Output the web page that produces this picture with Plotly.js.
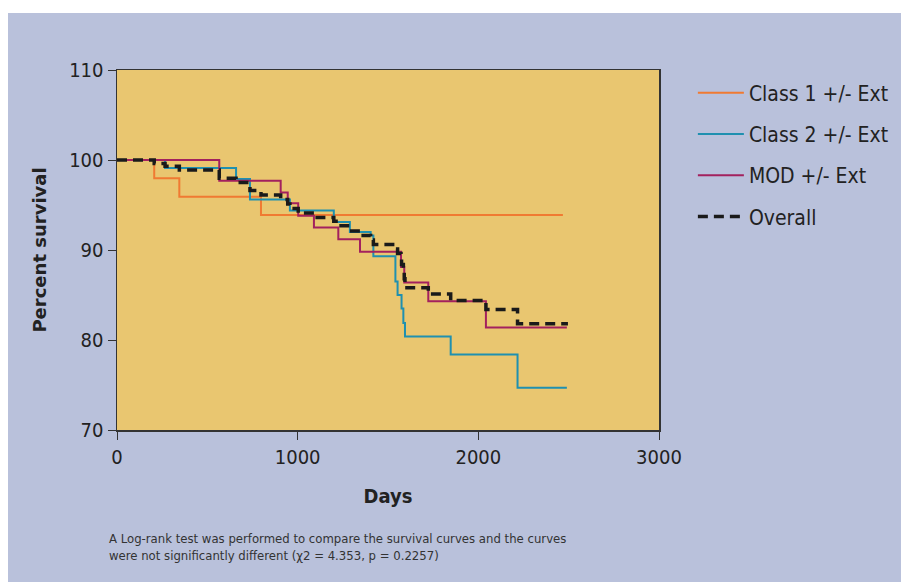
<!DOCTYPE html>
<html>
<head>
<meta charset="utf-8">
<script src="https://cdn.plot.ly/plotly-3.0.1.min.js"></script>
<style>
  html, body { margin: 0; padding: 0; background: #ffffff; width: 901px; height: 582px; overflow: hidden; }
  #chart { position: absolute; left: 8px; top: 13px; width: 893px; height: 569px; background: #b9c1db; }
</style>
</head>
<body>
<div id="chart"></div>
<script>
// Kaplan-Meier step data (days, percent survival after each event)
const class1Days = [0, 206, 345, 797, 2468];
const class1Surv = [100, 97.96, 95.92, 93.88, 93.88];

const class2Days = [0, 266, 659, 736, 957, 1200, 1289, 1404, 1419, 1541, 1553, 1575, 1585, 1594, 1847, 2217, 2490];
const class2Surv = [100, 99.1, 97.9, 95.6, 94.4, 93.1, 92.0, 91.6, 89.3, 86.5, 85.0, 83.5, 81.9, 80.4, 78.4, 74.7, 74.7];

const modDays = [0, 566, 906, 945, 1003, 1090, 1225, 1345, 1572, 1590, 1723, 2042, 2490];
const modSurv = [100, 97.7, 96.4, 95.2, 93.8, 92.5, 91.2, 89.8, 88.1, 86.4, 84.3, 81.4, 81.4];

const overallDays = [0, 206, 266, 345, 566, 659, 736, 797, 906, 945, 957, 1003, 1090, 1200, 1225, 1289, 1345, 1404, 1419, 1541, 1553, 1572, 1575, 1585, 1590, 1594, 1723, 1847, 2042, 2217, 2496];
const overallSurv = [100, 99.6, 99.3, 98.9, 97.96, 97.5, 96.6, 96.1, 95.6, 95.1, 94.6, 94.1, 93.6, 93.2, 92.7, 92.1, 91.6, 91.1, 90.6, 90.1, 89.6, 89.0, 88.4, 87.6, 86.8, 85.8, 85.1, 84.4, 83.4, 81.8, 81.8];

const seriesNames = ["Class 1 +/- Ext", "Class 2 +/- Ext", "MOD +/- Ext", "Overall"];
const xTicks = [0, 1000, 2000, 3000];
const yTicks = [70, 80, 90, 100, 110];

const FONT = '"Liberation Sans Narrow", "DejaVu Sans Condensed", "Arial Narrow", sans-serif';

const traces = [
  {x: class1Days, y: class1Surv, name: seriesNames[0], legendgroup: 'a',
   mode: 'lines', line: {shape: 'hv', color: '#f07a32', width: 2}},
  {x: class2Days, y: class2Surv, name: seriesNames[1], legendgroup: 'b',
   mode: 'lines', line: {shape: 'hv', color: '#1f90b0', width: 2}},
  {x: modDays, y: modSurv, name: seriesNames[2], legendgroup: 'c',
   mode: 'lines', line: {shape: 'hv', color: '#a3215e', width: 2}},
  {x: overallDays, y: overallSurv, name: seriesNames[3], legendgroup: 'd',
   mode: 'lines', line: {shape: 'hv', color: '#1a1a1a', width: 3.5, dash: '10px,6px'}}
];

const layout = {
  width: 893, height: 569,
  margin: {l: 109, r: 242, t: 57, b: 152, autoexpand: false},
  paper_bgcolor: 'rgba(0,0,0,0)',
  plot_bgcolor: '#e9c670',
  font: {family: FONT, color: '#222222', size: 19},
  showlegend: true,
  legend: {
    x: 1.0625, xanchor: 'left', y: 0.993, yanchor: 'top',
    bgcolor: 'rgba(0,0,0,0)', font: {family: FONT, size: 21, color: '#222222'},
    tracegroupgap: 11, itemwidth: 46
  },
  xaxis: {
    range: [0, 3000], tickvals: xTicks, ticktext: xTicks.map(String),
    ticks: 'outside', ticklen: 8, tickwidth: 1, tickcolor: '#333',
    showline: true, linecolor: '#333', linewidth: 1.5, mirror: true,
    showgrid: false, zeroline: false,
    tickfont: {family: FONT, size: 20, color: '#222'},
    title: {text: '<b>Days</b>', font: {family: FONT, size: 20, color: '#222'}, standoff: 21}
  },
  yaxis: {
    range: [70, 110], tickvals: yTicks, ticktext: yTicks.map(String),
    ticks: 'outside', ticklen: 8, tickwidth: 1, tickcolor: '#333',
    showline: true, linecolor: '#333', linewidth: 1.5, mirror: true,
    showgrid: false, zeroline: false,
    tickfont: {family: FONT, size: 20, color: '#222'},
    title: {text: '<b>Percent survival</b>', font: {family: '"DejaVu Sans", sans-serif', size: 18, color: '#222'}, standoff: 18}
  },
  annotations: [{
    xref: 'paper', yref: 'paper', x: -0.0185, y: -0.275, xanchor: 'left', yanchor: 'top',
    align: 'left', showarrow: false,
    text: 'A Log-rank test was performed to compare the survival curves and the curves<br>were not significantly different (\u03c72 = 4.353, p = 0.2257)',
    font: {family: FONT, size: 13, color: '#333'}
  }]
};

Plotly.newPlot('chart', traces, layout, {displayModeBar: false, staticPlot: true});
</script>
</body>
</html>
